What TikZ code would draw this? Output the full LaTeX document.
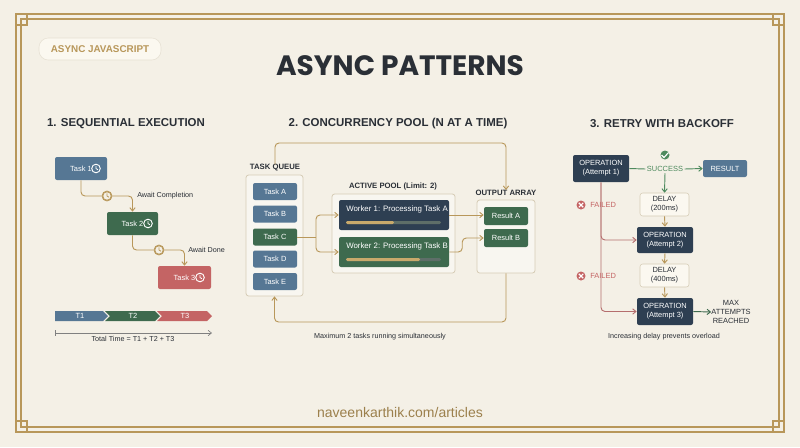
\documentclass[tikz,border=0pt]{standalone}
\usepackage{fontspec}
\setmainfont{Liberation Sans}
\newfontfamily\titlefont{Poppins}
\usetikzlibrary{arrows.meta}
\definecolor{bg}{HTML}{F4F0E6}
\definecolor{gold}{HTML}{B8975A}
\definecolor{navy}{HTML}{2E3F52}
\definecolor{slate}{HTML}{567794}
\definecolor{leaf}{HTML}{3E6A4E}
\definecolor{rose}{HTML}{C46464}
\definecolor{ink}{HTML}{2A2F36}
\definecolor{failline}{HTML}{B56E6E}
\definecolor{okline}{HTML}{4E8A5E}
\definecolor{pale}{HTML}{FBF8F0}
\definecolor{edge}{HTML}{D6CCB6}
\definecolor{barbg}{HTML}{5E6E68}
\definecolor{tan}{HTML}{C8A96B}
\tikzset{
  box/.style 2 args={minimum width=#1*0.75pt, minimum height=#2*0.75pt},
  task/.style={rectangle, rounded corners=1.5pt, text=white, inner sep=0pt, font=\fontsize{5.6}{6.5}\selectfont},
  container/.style={rectangle, rounded corners=2pt, draw=edge, fill=bg!60!white, line width=0.6pt},
  delay/.style={rectangle, rounded corners=2pt, draw=edge, fill=pale, text=ink, inner sep=0pt, align=center, font=\fontsize{5.6}{6.8}\selectfont},
  op/.style={task, fill=navy, align=center, font=\fontsize{5.6}{6.8}\selectfont},
  label/.style={text=ink, inner sep=0pt, font=\fontsize{5.4}{6.5}\selectfont},
  caption/.style={text=ink, inner sep=0pt, font=\fontsize{5.8}{7}\selectfont\bfseries},
  header/.style={text=ink, inner sep=0pt, font=\fontsize{8.6}{10}\selectfont\bfseries},
  flow/.style={draw=gold, line width=0.7pt, rounded corners=3pt, -{Straight Barb[length=2.5pt,width=4pt]}},
  clock/.style={circle, draw=gold, fill=bg, line width=0.6pt, minimum size=10*0.75pt, inner sep=0pt},
  pics/hands/.style={code={
    \draw[#1, line width=0.7pt] (0,0) circle (4.3);
    \draw[#1, line width=0.6pt] (0,-2.6) -- (0,0) -- (1.9,1.2);}},
}
\begin{document}
\begin{tikzpicture}[x=0.75pt, y=-0.75pt]
\useasboundingbox (0,0) rectangle (800,447);
\fill[bg] (0,0) rectangle (800,447);
% frame
\draw[gold, line width=1pt] (16,14) rectangle (784,432);
\draw[gold, line width=1pt] (21,19) rectangle (779,427);
\foreach \cx/\cy in {16/14, 773/14, 16/421, 773/421}
  \draw[gold, line width=1pt] (\cx,\cy) rectangle ++(11,11);
% heading
\node[rectangle, rounded corners=7pt, fill=pale, draw=edge!60, box={122}{22}, text=gold, font=\fontsize{7.4}{9}\selectfont\bfseries] (badge) at (100,49) {ASYNC JAVASCRIPT};
\node[text=ink, font=\titlefont\fontsize{21}{24}\selectfont\bfseries] (title) at (400,66) {ASYNC PATTERNS};
\node[header] (h1) at (126,124) {1. SEQUENTIAL EXECUTION};
\node[header] (h2) at (398,124) {2. CONCURRENCY POOL (N AT A TIME)};
\node[header] (h3) at (662,124) {3. RETRY WITH BACKOFF};

% 1. sequential
\node[task, fill=slate, box={52}{23}] (t1) at (81,168.5) {Task 1\hspace{14pt}};
\pic at (96,168.5) {hands=white};
\node[clock] (c1) at (107,196) {};
\pic at (c1) {hands=gold};
\node[task, fill=leaf, box={51}{23}] (t2) at (132.5,223.5) {Task 2\hspace{14pt}};
\pic at (148,223.5) {hands=white};
\node[clock] (c2) at (159,250) {};
\pic at (c2) {hands=gold};
\node[task, fill=rose, box={53}{23}] (t3) at (184.5,277.5) {Task 3\hspace{14pt}};
\pic at (200,277.5) {hands=white};
\draw[flow, -] (t1.south) |- (c1.west);
\draw[flow] (c1.east) -| (t2.north);
\draw[flow, -] (t2.south) |- (c2.west);
\draw[flow] (c2.east) -| (t3.north);
\node[label, anchor=west] (aw1) at (137,196) {Await Completion};
\node[label, anchor=west] (aw2) at (188,250) {Await Done};
% timeline
\fill[slate] (55,311) -- (103,311) -- (108,316) -- (103,321) -- (55,321) -- cycle;
\fill[leaf] (105,311) -- (155,311) -- (160,316) -- (155,321) -- (105,321) -- (110,316) -- cycle;
\fill[rose] (157,311) -- (207,311) -- (212,316) -- (207,321) -- (157,321) -- (162,316) -- cycle;
\node[task] (s1) at (80,316) {T1};
\node[task] (s2) at (133,316) {T2};
\node[task] (s3) at (185,316) {T3};
\coordinate (tl0) at (55,333);
\coordinate (tl1) at (212,333);
\draw[gray, line width=0.5pt, -{Straight Barb[length=2.5pt,width=4pt]}] (tl0) -- (tl1);
\draw[gray, line width=0.5pt] (55,330) -- (55,336);
\node[label] (total) at (133,339) {Total Time = T1 + T2 + T3};

% 2. concurrency pool
\node[container, box={57}{121}] (queue) at (274.5,235.5) {};
\node[caption] (qlabel) at (275,168) {TASK QUEUE};
\foreach \n/\y/\c in {A/191.5/slate, B/214/slate, C/237/leaf, D/259/slate, E/281.5/slate}
  \node[task, fill=\c, box={44}{17}] (q\n) at (275,\y) {Task \n};
\node[container, box={123}{79}] (pool) at (393.5,233.5) {};
\node[caption] (plabel) at (393,186) {ACTIVE POOL (Limit: 2)};
\node[task, fill=navy, box={110}{30}] (w1) at (394,215) {};
\node[task, fill=leaf, box={110}{30}] (w2) at (394,252) {};
\node[task, anchor=west, font=\fontsize{5.9}{7}\selectfont] (w1t) at (346,209) {Worker 1: Processing Task A};
\node[task, anchor=west, font=\fontsize{5.9}{7}\selectfont] (w2t) at (346,246) {Worker 2: Processing Task B};
\fill[barbg, rounded corners=1pt] (346,221) rectangle (441,224);
\fill[tan, rounded corners=1pt] (346,221) rectangle (394,224);
\fill[barbg, rounded corners=1pt] (346,258) rectangle (441,261);
\fill[tan, rounded corners=1pt] (346,258) rectangle (420,261);
\node[container, box={58}{73}] (outarr) at (506,236.5) {};
\node[caption] (olabel) at (506,193) {OUTPUT ARRAY};
\node[task, fill=leaf, box={44}{18}] (ra) at (506,216) {Result A};
\node[task, fill=leaf, box={44}{18}] (rb) at (506,238) {Result B};
\coordinate (split) at (316,237);
\coordinate (loopt) at (400,143);
\coordinate (loopb) at (400,322);
\coordinate (bend) at (554,238);
\draw[flow, -] (qC.east) -- (split);
\draw[flow] (split) |- (w1.west);
\draw[flow] (split) |- (w2.west);
\draw[flow] (w1.east) -- (w1.east -| ra.west);
\draw[flow] (w2.east) -- ++(13,0) |- (rb.west);
\draw[flow] (qlabel.north) |- (loopt) -| (olabel.north);
\draw[flow] (outarr.south) |- (loopb) -| (queue.south);
\node[label] (maxnote) at (380,337) {Maximum 2 tasks running simultaneously};

% 3. retry with backoff
\node[op, box={56}{27}] (op1) at (601,168.5) {OPERATION\\(Attempt 1)};
\node[op, box={56}{26}] (op2) at (665,240) {OPERATION\\(Attempt 2)};
\node[op, box={56}{27}] (op3) at (665,311.5) {OPERATION\\(Attempt 3)};
\node[delay, box={49}{23}] (d1) at (664.5,204.5) {DELAY\\(200ms)};
\node[delay, box={49}{23}] (d2) at (664.5,275.5) {DELAY\\(400ms)};
\node[task, fill=slate, box={44}{17}] (res) at (725,168.5) {RESULT};
\node[text=okline, inner sep=1pt, font=\fontsize{5.6}{6.5}\selectfont] (succ) at (665,169) {SUCCESS};
\node[circle, fill=okline, minimum size=9*0.75pt, inner sep=0pt] (chk) at (665,155) {};
\draw[white, line width=0.8pt] (661.5,155) -- (664,157.5) -- (668.5,152.5);
\draw[okline, line width=0.7pt] (op1.east) -- (succ.west);
\draw[flow, draw=okline] (succ.east) -- (res.west);
\draw[flow, draw=okline] (succ.south) -- (d1.north);
\draw[flow] (d1.south) -- (op2.north);
\draw[flow] (op2.south) -- (d2.north);
\draw[flow] (d2.south) -- (op3.north);
\draw[flow, draw=failline] (op1.south) |- (op2.west);
\draw[flow, draw=failline] (op1.south) |- (op3.west);
\foreach \k/\y in {1/205, 2/276} {
  \node[circle, fill=rose, minimum size=9*0.75pt, inner sep=0pt] (x\k) at (581,\y) {};
  \draw[white, line width=0.8pt] (578.8,\y-2.2) -- (583.2,\y+2.2) (578.8,\y+2.2) -- (583.2,\y-2.2);
  \node[text=rose, anchor=west, inner sep=0pt, font=\fontsize{5.6}{6.5}\selectfont] (f\k) at (590,\y) {FAILED};
}
\node[text=ink, align=center, inner sep=0pt, font=\fontsize{5.6}{6.6}\selectfont] (maxr) at (731,312) {MAX\\ATTEMPTS\\REACHED};
\draw[flow, draw=leaf] (op3.east) -- (maxr.west);
\node[label] (delaynote) at (664,337) {Increasing delay prevents overload};

% footer
\node[text=gold!85!black, font=\fontsize{10.5}{12}\selectfont] (site) at (400,412) {naveenkarthik.com/articles};
\end{tikzpicture}
\end{document}
